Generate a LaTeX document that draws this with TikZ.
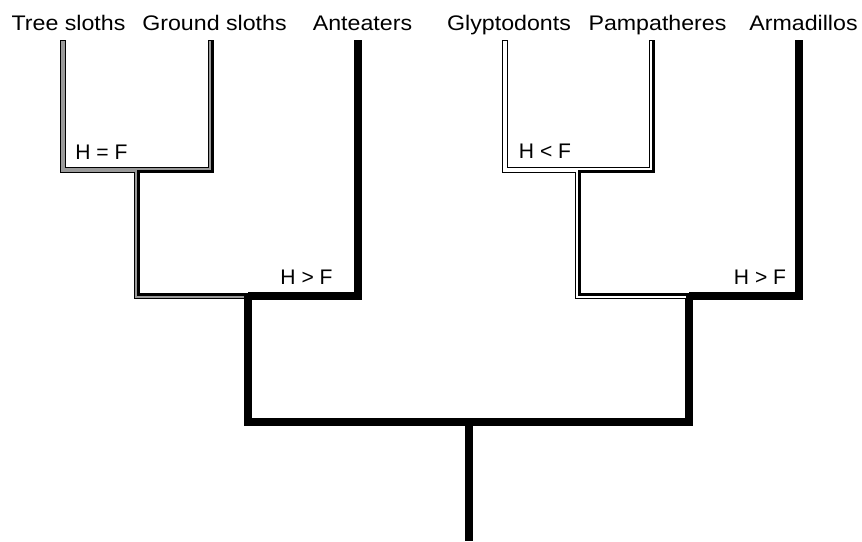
\documentclass[tikz,border=0pt]{standalone}
\usepackage{fontspec}
\setmainfont{Liberation Sans}

\begin{document}
\begin{tikzpicture}[
    x=0.02cm, y=-0.02cm,
    every node/.style={font=\fontsize{12}{14}\selectfont},
]

% ---------------------------------------------------------------- colours
\definecolor{c1}{HTML}{000000}   % branches, text
\definecolor{c2}{HTML}{9A9A9A}   % H = F
\definecolor{c3}{HTML}{FFFFFF}   % H < F

% ================================================================
% Geometry, in pixels of the 862 x 541 frame (y grows downwards).
%
%   tips at y = 40, taxon names on a baseline at y = 31
%   sloth / glyptodont pairs join at y = 170
%   Pilosa / Cingulata join at y = 296, the root bar at y = 422
%
%   a branch of mixed state: black base, coloured stripe shifted
%   to the right-hand side of the walking direction
% ================================================================

\tikzset{
    taxon/.style={anchor=base, inner sep=0pt, xscale=1.1, text=c1},
    statelab/.style={inner sep=0pt, text=c1},
    thickbr/.style={draw=c1, line width=4pt, line join=miter},
    outbr/.style={draw=c1, line width=3.7pt, line join=miter},
    fillbr/.style={line width=2.2pt, line join=miter, shorten <=0.6pt},
    halfbr/.style={line width=1.5pt, line join=miter},
}

\useasboundingbox (0,0) rectangle (862,541);

% ================================================================ tips and joins
\coordinate (treetip)   at (63,40);
\coordinate (groundtip) at (211,40);
\coordinate (anttip)    at (358,40);
\coordinate (glyptip)   at (505,40);
\coordinate (pamptip)   at (652,40);
\coordinate (armatip)   at (799,40);

\coordinate (slothjoin) at (137,170);
\coordinate (pilosa)    at (248,296);
\coordinate (glypjoin)  at (578,170);
\coordinate (cingul)    at (689,296);
\coordinate (rootjoin)  at (469,422);
\coordinate (rootbase)  at (469,541);

% ================================================================ black bases
\draw[outbr] (treetip) |- (slothjoin);
\draw[outbr] (groundtip) |- (slothjoin);
\draw[outbr] (slothjoin) |- (pilosa);
\draw[thickbr] (anttip) |- (pilosa);

\draw[outbr] (glyptip) |- (glypjoin);
\draw[outbr] (pamptip) |- (glypjoin);
\draw[outbr] (glypjoin) |- (cingul);
\draw[thickbr] (armatip) |- (cingul);

\draw[thickbr] (pilosa) |- (rootjoin) -| (cingul);
\draw[thickbr] (rootjoin) -- (rootbase);

% ================================================================ stripes
% H = F, grey
\draw[fillbr, c2] (treetip) |- (slothjoin);
\draw[halfbr, c2, shorten <=0.6pt]
    ([xshift=-0.55pt]groundtip) |- ([yshift=0.55pt]slothjoin);
\draw[halfbr, c2, shorten >=2pt]
    ([xshift=-0.55pt]slothjoin) |- ([yshift=-0.55pt]pilosa);

% H < F, white
\draw[fillbr, c3] (glyptip) |- (glypjoin);
\draw[halfbr, c3, shorten <=0.6pt]
    ([xshift=-0.55pt]pamptip) |- ([yshift=0.55pt]glypjoin);
\draw[halfbr, c3, shorten >=1.5pt]
    ([xshift=-0.55pt]glypjoin) |- ([yshift=-0.55pt]cingul);

% ================================================================ names
\node[taxon] (tree)   at (68.5,31)  {Tree sloths};
\node[taxon] (ground) at (214.5,31) {Ground sloths};
\node[taxon] (ant)    at (362.5,31) {Anteaters};
\node[taxon] (glyp)   at (509,31)   {Glyptodonts};
\node[taxon] (pamp)   at (657.5,31) {Pampatheres};
\node[taxon] (arma)   at (803.5,31) {Armadillos};

% ================================================================ states
\node[statelab] (hsloth) at (101.5,152.5) {H = F};
\node[statelab] (hpilo)  at (306.5,277.5) {H > F};
\node[statelab] (hglyp)  at (545,151)     {H < F};
\node[statelab] (hcing)  at (760,277)     {H > F};

\end{tikzpicture}
\end{document}
